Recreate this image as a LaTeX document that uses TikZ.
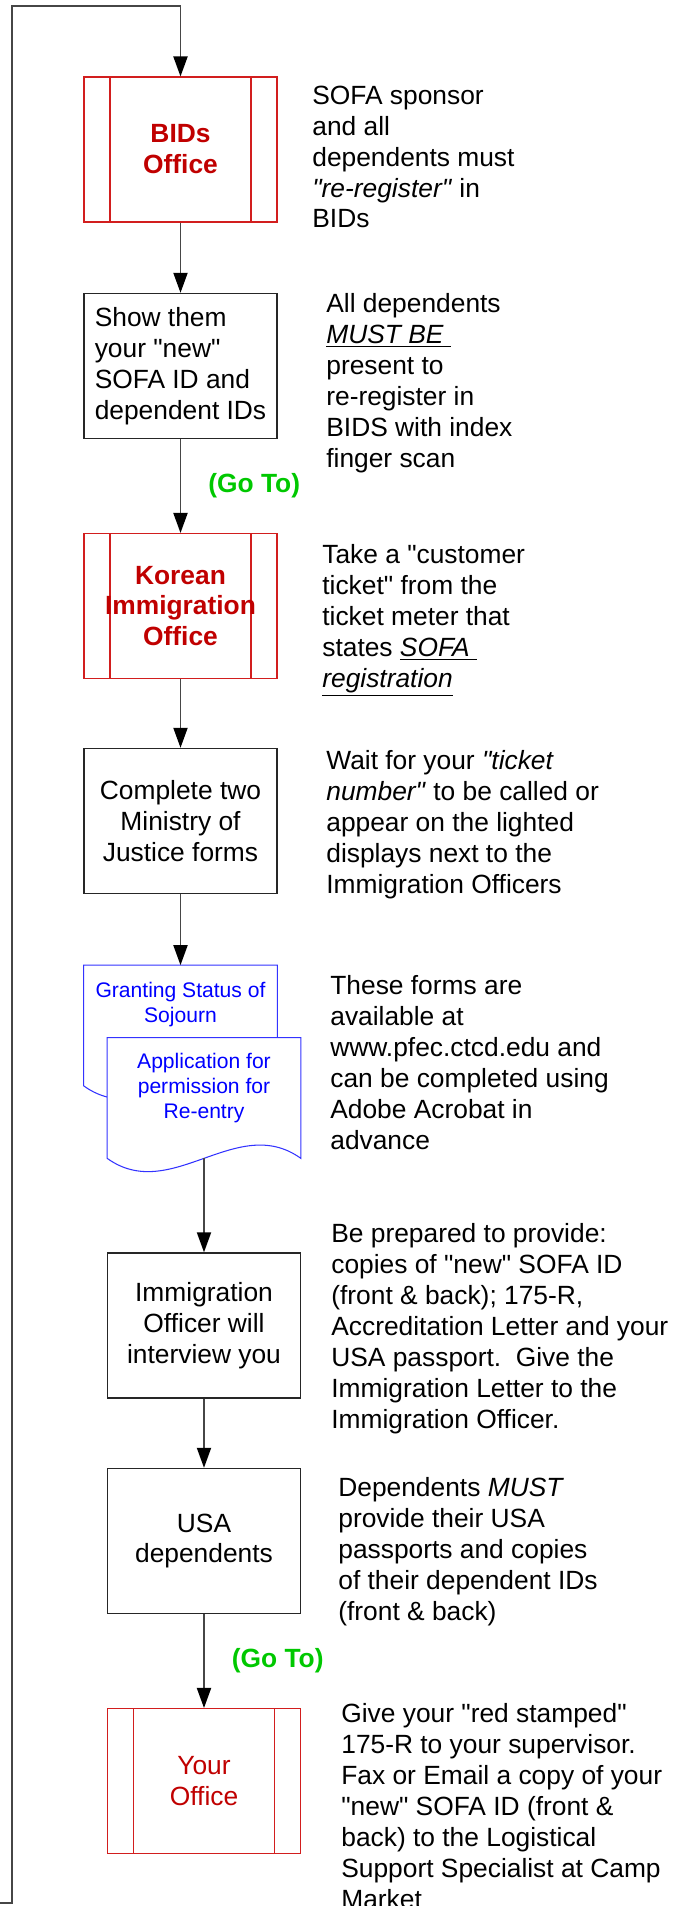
\documentclass[tikz,border=0pt]{standalone}
\usepackage{fontspec}
\newfontfamily\flowfont{Liberation Sans}
\usetikzlibrary{arrows.meta}
\definecolor{procred}{RGB}{210,30,30}
\definecolor{officered}{RGB}{192,0,0}
\definecolor{gogreen}{RGB}{0,200,0}
\definecolor{formblue}{RGB}{0,0,255}
\definecolor{linegray}{RGB}{70,70,70}

\begin{document}
\begin{tikzpicture}[x=0.02cm, y=-0.02cm,
    every node/.style={font=\flowfont\fontsize{15}{17.6}\selectfont},
    stepbox/.style={draw=black!85, line width=0.8pt, minimum width=3.86cm, minimum height=2.9cm, inner sep=0pt, align=center},
    office/.style={stepbox, draw=procred, line width=0.6pt, text=officered,
        path picture={\draw[procred, line width=0.6pt]
            ([xshift=0.52cm]path picture bounding box.north west) -- ([xshift=0.52cm]path picture bounding box.south west)
            ([xshift=-0.52cm]path picture bounding box.north east) -- ([xshift=-0.52cm]path picture bounding box.south east);}},
    boldoffice/.style={office, font=\flowfont\fontsize{15}{17.6}\selectfont\bfseries},
    form/.style={minimum width=3.86cm, minimum height=2.4cm, inner sep=0pt},
    formline/.style={draw=formblue!80, line width=0.6pt, fill=white},
    formtext/.style={text=formblue, align=center, inner sep=0pt, font=\flowfont\fontsize{12}{14.2}\selectfont},
    note/.style={anchor=north west, align=left, inner sep=0pt},
    goto/.style={text=gogreen, inner sep=0pt, anchor=west, xshift=0.54cm, font=\flowfont\fontsize{15}{17.6}\selectfont\bfseries},
    flow/.style={linegray, line width=1pt, -{Triangle[length=11.4pt, width=8pt, black]}}
]
\useasboundingbox (0,0) rectangle (678,1906);

\node[boldoffice] (bids) at (180.5,149.5) {BIDs\\Office};
\node[stepbox, align=left] (showids) at (180.5,366) {Show them\\your "new"\\SOFA ID and\\dependent IDs};
\node[boldoffice] (korean) at (180.5,606) {Korean\\Immigration\\Office};
\node[stepbox] (forms) at (180.5,821) {Complete two\\Ministry of\\Justice forms};
\node[form] (sojourn) at (180.5,1025.5) {};
\node[form] (reentry) at (204,1098) {};
\node[stepbox] (interview) at (204,1325.5) {Immigration\\Officer will\\interview you};
\node[stepbox] (usadeps) at (204,1541) {USA\\dependents};
\node[office] (youroffice) at (204,1781) {Your\\Office};

\draw[formline] (sojourn.south west) -- (sojourn.north west) -- (sojourn.north east) -- (sojourn.south east)
    .. controls +(-64,-46) and +(64,46) .. (sojourn.south west) -- cycle;
\node[formtext] (sojourntext) at (180.5,1004.5) {Granting Status of\\Sojourn};
\draw[formline] (reentry.south west) -- (reentry.north west) -- (reentry.north east) -- (reentry.south east)
    .. controls +(-64,-46) and +(64,46) .. (reentry.south west) -- cycle;
\node[formtext] (reentrytext) at (204,1088) {Application for\\permission for\\Re-entry};

\coordinate (loopin) at (-5,1903);
\draw[flow] (loopin) -| (12,6) -| (bids.north);
\draw[flow] (bids.south) -- (showids.north);
\draw[flow] (showids.south) -- node[goto] (gotoa) {(Go To)} (korean.north);
\draw[flow] (korean.south) -- (forms.north);
\draw[flow] (forms.south) -- (sojourn.north);
\draw[flow] (reentry.south) -- (interview.north);
\draw[flow] (interview.south) -- (usadeps.north);
\draw[flow] (usadeps.south) -- node[goto] (gotob) {(Go To)} (youroffice.north);

\node[note] (bidsnote) at (312,85.5) {SOFA sponsor\\and all\\dependents must\\\textit{"re-register"} in\\BIDs};
\node[note] (shownote) at (326,293.5) {All dependents\\\underline{\textit{MUST BE }}\\present to\\re-register in\\BIDS with index\\finger scan};
\node[note] (koreannote) at (322,544.5) {Take a "customer\\ticket" from the\\ticket meter that\\states \underline{\textit{SOFA }}\\\underline{\textit{registration}}};
\node[note] (formsnote) at (326,750.5) {Wait for your \textit{"ticket}\\\textit{number"} to be called or\\appear on the lighted\\displays next to the\\Immigration Officers};
\node[note] (webnote) at (330,975.5) {These forms are\\available at\\www.pfec.ctcd.edu and\\can be completed using\\Adobe Acrobat in\\advance};
\node[note] (interviewnote) at (331,1223.5) {Be prepared to provide:\\copies of "new" SOFA ID\\(front \& back); 175-R,\\Accreditation Letter and your\\USA passport.\ \ Give the\\Immigration Letter to the\\Immigration Officer.};
\node[note] (usanote) at (338,1477.5) {Dependents \textit{MUST}\\provide their USA\\passports and copies\\of their dependent IDs\\(front \& back)};
\node[note] (officenote) at (341,1703.5) {Give your "red stamped"\\175-R to your supervisor.\\Fax or Email a copy of your\\"new" SOFA ID (front \&\\back) to the Logistical\\Support Specialist at Camp\\Market};
\end{tikzpicture}
\end{document}
